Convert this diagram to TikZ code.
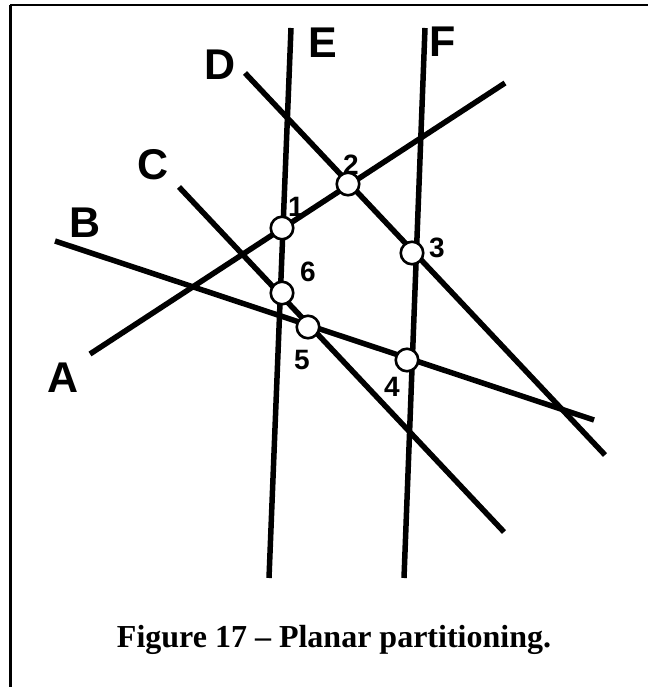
\documentclass[tikz,border=0pt]{standalone}
\usepackage{fontspec}
\setmainfont{Liberation Serif}
\newfontfamily\lblfont{Liberation Sans}
\begin{document}
\begin{tikzpicture}[x=1pt,y=-1pt,
  ln/.style={line width=5.5pt},
  pt/.style={circle, draw, fill=white, line width=2.6pt, minimum size=22.5pt, inner sep=0pt},
  lbl/.style={inner sep=0pt, font=\lblfont\bfseries\fontsize{43}{43}\selectfont},
  num/.style={inner sep=0pt, font=\lblfont\bfseries\fontsize{28}{28}\selectfont},
  captiontext/.style={inner sep=0pt, anchor=base, font=\bfseries\fontsize{32}{32}\selectfont}]
\useasboundingbox (0,0) rectangle (648,687);
% frame
\coordinate (fTL) at (10,5);
\coordinate (fTR) at (648,5);
\coordinate (fBL) at (10,687);
\draw[line width=2pt] (fTL) -- (fTR);
\draw[line width=3pt] (fTL) -- (fBL);
% line end points
\coordinate (a1) at (90,354);  \coordinate (a2) at (505,83);
\coordinate (b1) at (55,241);  \coordinate (b2) at (594,420);
\coordinate (c1) at (179,187); \coordinate (c2) at (504,532);
\coordinate (d1) at (245,73);  \coordinate (d2) at (605,455);
\coordinate (e1) at (291,28);  \coordinate (e2) at (269,578);
\coordinate (f1) at (425,28);  \coordinate (f2) at (404,578);
\draw[ln] (a1) -- (a2);
\draw[ln] (b1) -- (b2);
\draw[ln] (c1) -- (c2);
\draw[ln] (d1) -- (d2);
\draw[ln] (e1) -- (e2);
\draw[ln] (f1) -- (f2);
% vertices
\node[pt] (p1) at (282,228) {};
\node[pt] (p2) at (348,184) {};
\node[pt] (p3) at (412,253) {};
\node[pt] (p4) at (407,360) {};
\node[pt] (p5) at (308,327) {};
\node[pt] (p6) at (282,293) {};
% line labels
\node[lbl] (lA) at (63,378) {A};
\node[lbl] (lB) at (85,223) {B};
\node[lbl] (lC) at (153,165) {C};
\node[lbl] (lD) at (220,65) {D};
\node[lbl] (lE) at (323,43) {E};
\node[lbl] (lF) at (443,42) {F};
% vertex numbers
\node[num] (n1) at (296,207) {1};
\node[num] (n2) at (351,165) {2};
\node[num] (n3) at (437,248) {3};
\node[num] (n4) at (392,387) {4};
\node[num] (n5) at (302,360) {5};
\node[num] (n6) at (308,272) {6};
% caption
\node[captiontext] (caption) at (334,647) {Figure 17 -- Planar partitioning.};
\end{tikzpicture}
\end{document}
